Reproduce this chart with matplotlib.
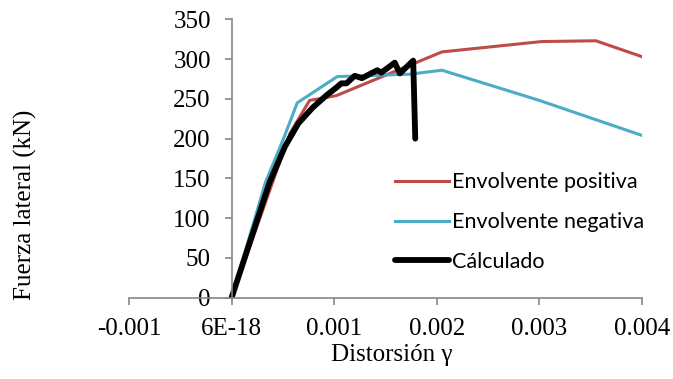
import matplotlib
matplotlib.use("Agg")
import matplotlib.pyplot as plt
from matplotlib.ticker import FixedLocator, FixedFormatter

# Data
pos_x = [0.0, 0.00057, 0.00076, 0.00102, 0.00205, 0.00302, 0.00355, 0.00400]
pos_y = [0.0, 207, 248, 254, 309, 322, 323, 303]

neg_x = [0.0, 0.00033, 0.00050, 0.00064, 0.00103, 0.00174, 0.00205, 0.00300, 0.00400]
neg_y = [0.0, 145, 198, 245, 278, 281, 286, 248, 204]

calc_x = [0.0, 0.00037, 0.00052, 0.00065, 0.00079, 0.00093, 0.00101,
          0.00107, 0.00112, 0.00120, 0.00127, 0.00142, 0.00146, 0.00159,
          0.00164, 0.00177, 0.00179]
calc_y = [0.0, 145, 190, 219, 239, 255, 263, 269.5, 269.5, 279, 276,
          286, 283, 295.5, 282, 298, 200]

x_ticks = [-0.001, 0.0, 0.001, 0.002, 0.003, 0.004]
x_tick_labels = ["-0.001", "6E-18", "0.001", "0.002", "0.003", "0.004"]
y_ticks = [0, 50, 100, 150, 200, 250, 300, 350]
y_tick_labels = ["0", "50", "100", "150", "200", "250", "300", "350"]

labels = ["Envolvente positiva", "Envolvente negativa", "Cálculado"]

fig = plt.figure(figsize=(6.73, 3.79), dpi=100)
ax = fig.add_axes([129/673, 1 - 297.7/379, (642 - 129)/673, (297.7 - 19.3)/379])

ax.plot(pos_x, pos_y, color="#BE4B48", lw=2.2, label=labels[0], solid_joinstyle="round")
ax.plot(neg_x, neg_y, color="#4BACC6", lw=2.2, label=labels[1], solid_joinstyle="round")
ax.plot(calc_x, calc_y, color="black", lw=4.2, label=labels[2],
        solid_joinstyle="round", solid_capstyle="round")

ax.set_xlim(-0.001, 0.004)
ax.set_ylim(0, 350)

ax.xaxis.set_major_locator(FixedLocator(x_ticks))
ax.xaxis.set_major_formatter(FixedFormatter(x_tick_labels))
ax.yaxis.set_major_locator(FixedLocator(y_ticks))
ax.yaxis.set_major_formatter(FixedFormatter(y_tick_labels))

for s in ["top", "right"]:
    ax.spines[s].set_visible(False)
ax.spines["left"].set_position(("data", 0))
for s in ["left", "bottom"]:
    ax.spines[s].set_color("#868686")
    ax.spines[s].set_linewidth(1.2)

serif = ["Liberation Serif", "DejaVu Serif"]
ax.tick_params(axis="both", direction="out", length=5, width=1.2, color="#868686",
               labelsize=18)
ax.tick_params(axis="y", pad=10)
ax.tick_params(axis="x", pad=9.5)
for lab in ax.get_xticklabels() + ax.get_yticklabels():
    lab.set_fontfamily(serif)

fig.text(25/673, 1 - 205/379, "Fuerza lateral (kN)", rotation=90, ha="center",
         va="center", fontsize=18, family=serif)
fig.text(392/673, 1 - 355/379, "Distorsión γ", ha="center", va="center",
         fontsize=18, family=serif)

leg = ax.legend(loc="upper left", bbox_to_anchor=(395/673, 1 - 172.5/379),
                bbox_transform=fig.transFigure, frameon=False,
                prop={"family": ["Lato", "DejaVu Sans"], "size": 15.5},
                handlelength=2.5, handletextpad=0.15, labelspacing=0.91,
                borderaxespad=0, borderpad=0)

fig.savefig("out.png", dpi=100)
